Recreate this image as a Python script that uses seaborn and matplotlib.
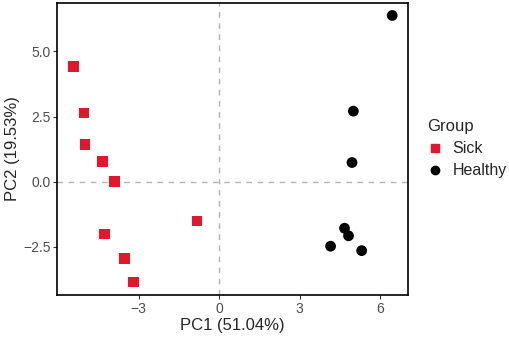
import pandas as pd
import seaborn as sns
import matplotlib.pyplot as plt

# PCA scores
sick_pc1 = [-5.44, -5.04, -5.01, -4.36, -3.90, -0.83, -4.28, -3.53, -3.20]
sick_pc2 = [4.43, 2.64, 1.43, 0.79, 0.00, -1.50, -2.00, -2.93, -3.84]
healthy_pc1 = [6.46, 5.01, 4.96, 4.68, 4.83, 4.16, 5.32]
healthy_pc2 = [6.38, 2.71, 0.74, -1.78, -2.07, -2.47, -2.64]
groups = ['Sick', 'Healthy']
x_ticks = [-3, 0, 3, 6]
y_ticks = [-2.5, 0.0, 2.5, 5.0]

df = pd.DataFrame({
    'PC1': sick_pc1 + healthy_pc1,
    'PC2': sick_pc2 + healthy_pc2,
    'Group': ['Sick'] * len(sick_pc1) + ['Healthy'] * len(healthy_pc1),
})

sns.set_style('white')
plt.rcParams['font.family'] = ['Liberation Sans', 'DejaVu Sans']

fig = plt.figure(figsize=(5.1, 3.37), dpi=100)
ax = fig.add_axes([0.1124, 0.1255, 0.6876, 0.8665])

ax.axhline(0, color='#b3b3b3', lw=1, ls=(0, (4, 4)), zorder=0)
ax.axvline(0, color='#b3b3b3', lw=1, ls=(0, (4, 4)), zorder=0)

sns.scatterplot(data=df, x='PC1', y='PC2', hue='Group', style='Group',
                hue_order=groups, style_order=groups,
                palette={'Sick': '#E3172B', 'Healthy': 'black'},
                markers={'Sick': 's', 'Healthy': 'o'},
                s=60, linewidth=0, ax=ax, legend=False)

ax.set_xlim(-6.04, 7.05)
ax.set_ylim(-4.33, 6.87)
ax.set_xticks(x_ticks)
ax.set_xticklabels(['\u22123', '0', '3', '6'])
ax.set_yticks(y_ticks)
ax.set_yticklabels(['\u22122.5', '0.0', '2.5', '5.0'])
ax.tick_params(axis='both', length=3, width=0.8, color='#333333',
               labelsize=10, labelcolor='#4d4d4d', pad=2,
               bottom=True, left=True)
for sp in ax.spines.values():
    sp.set_color('black')
    sp.set_linewidth(1.2)
ax.set_xlabel('PC1 (51.04%)', fontsize=12, labelpad=2)
ax.set_ylabel('PC2 (19.53%)', fontsize=12, labelpad=2)

handles = [
    plt.Line2D([], [], marker='s', color='#E3172B', ls='', markersize=6),
    plt.Line2D([], [], marker='o', color='black', ls='', markersize=6),
]
leg = ax.legend(handles, groups, title='Group', frameon=False,
                loc='center left', bbox_to_anchor=(1.045, 0.5),
                fontsize=11.5, title_fontsize=12, handletextpad=0.6,
                labelspacing=0.45, handlelength=1.0, borderaxespad=0,
                borderpad=0.2)
leg._legend_box.align = 'left'

fig.savefig('out.png', dpi=100)
